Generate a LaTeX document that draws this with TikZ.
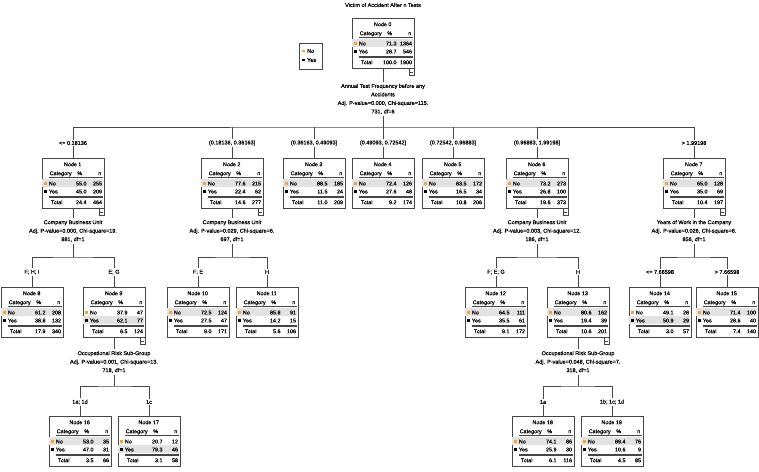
\documentclass[tikz,border=0pt]{standalone}
\usepackage{fontspec}
\setmainfont{Liberation Sans}
\newfontfamily\dfont{Liberation Sans}[FakeBold=0.35]
\definecolor{orng}{RGB}{242,163,60}
\definecolor{rowgray}{RGB}{226,226,226}
\definecolor{ln}{RGB}{70,70,70}
\tikzset{
 box/.style={draw=ln, line width=0.6pt, minimum width=62pt, minimum height=50pt, inner sep=0pt},
 txt/.style={font=\dfont\fontsize{5.4}{6.5}\selectfont, inner sep=0pt},
 split/.style={font=\dfont\fontsize{5.5}{8.5}\selectfont, align=center, inner sep=1.5pt},
 blabel/.style={font=\dfont\fontsize{5.5}{6.5}\selectfont, fill=white, inner sep=1.5pt},
 conn/.style={draw=ln, line width=0.6pt},
 minusbox/.style={draw=ln, line width=0.5pt, minimum width=5pt, minimum height=7pt, inner sep=0pt, fill=white},
}
\newcommand\dtbox[9]{%
 \node[box] (#1) at (#2,#3+25) {};
 \begin{scope}[shift={(#1.north west)}]
  \if#5N\fill[rowgray] (0.5,21.5) rectangle (61.5,29.5);\else\fill[rowgray] (0.5,29.5) rectangle (61.5,37.5);\fi
  \node[txt,anchor=base] (#1h) at (31,8.5) {Node #4};
  \node[txt,anchor=base] (#1hc) at (19,17.5) {Category};
  \node[txt,anchor=base] (#1hp) at (38,17.5) {\%};
  \node[txt,anchor=base] (#1hn) at (58,17.5) {n};
  \draw[ln, line width=0.4pt] (7,19.5) -- (61,19.5);
  \fill[orng] (2.7,24.2) rectangle (5.3,26.8);
  \node[txt,anchor=base west] (#1a) at (7,27.7) {No};
  \node[txt,anchor=base east] (#1ap) at (45,27.7) {#6};
  \node[txt,anchor=base east] (#1an) at (60.5,27.7) {#7};
  \fill[black] (2.7,32.2) rectangle (5.3,34.8);
  \node[txt,anchor=base west] (#1b) at (7,35.7) {Yes};
  \node[txt,anchor=base east] (#1bp) at (45,35.7) {#8};
  \node[txt,anchor=base east] (#1bn) at (60.5,35.7) {#9};
  \draw[ln, line width=0.4pt] (7,38.6) -- (61,38.6) (7,39.7) -- (61,39.7);
 \end{scope}
}
\newcommand\dttot[3]{%
 \begin{scope}[shift={(#1.north west)}]
  \node[txt,anchor=base] (#1t) at (15,46.5) {Total};
  \node[txt,anchor=base east] (#1tp) at (45,46.5) {#2};
  \node[txt,anchor=base east] (#1tn) at (60.5,46.5) {#3};
 \end{scope}
}
\newcommand\dtminus[1]{%
 \node[minusbox,anchor=north east] (#1m) at (#1.south east) {};
 \draw[ln,line width=0.5pt] ([xshift=-1.5pt]#1m.center) -- ([xshift=1.5pt]#1m.center);
}
\begin{document}
\begin{tikzpicture}[x=1pt,y=-1pt]
\useasboundingbox (0,0) rectangle (759,471);
% title
\node[font=\dfont\fontsize{5.5}{6.5}\selectfont, inner sep=0pt] (title) at (383,5) {Victim of Accident After n Tests};
% legend
\node[draw=ln, line width=0.5pt, minimum width=22.5pt, minimum height=26.5pt, inner sep=0pt] (leg) at (310.5,56) {};
\fill[orng] (302.2,49.7) rectangle (304.8,52.3);
\node[txt,anchor=west] (legno) at (307,51) {No};
\fill[black] (302.2,58.7) rectangle (304.8,61.3);
\node[txt,anchor=west] (legyes) at (307,60) {Yes};

% ---- nodes
\dtbox{n0}{383}{18}{0}{N}{71.3}{1364}{28.7}{546}\dttot{n0}{100.0}{1900}\dtminus{n0}
\dtbox{n1}{73}{158}{1}{N}{55.0}{255}{45.0}{209}\dttot{n1}{24.4}{464}\dtminus{n1}
\dtbox{n2}{232}{158}{2}{N}{77.6}{215}{22.4}{62}\dttot{n2}{14.6}{277}\dtminus{n2}
\dtbox{n3}{314}{158}{3}{N}{88.5}{185}{11.5}{24}\dttot{n3}{11.0}{209}
\dtbox{n4}{383}{158}{4}{N}{72.4}{126}{27.6}{48}\dttot{n4}{9.2}{174}
\dtbox{n5}{453}{158}{5}{N}{83.5}{172}{16.5}{34}\dttot{n5}{10.8}{206}
\dtbox{n6}{537}{158}{6}{N}{73.2}{273}{26.8}{100}\dttot{n6}{19.6}{373}\dtminus{n6}
\dtbox{n7}{694}{158}{7}{N}{65.0}{128}{35.0}{69}\dttot{n7}{10.4}{197}\dtminus{n7}
\dtbox{n8}{32}{287}{8}{N}{61.2}{208}{38.8}{132}\dttot{n8}{17.9}{340}
\dtbox{n9}{114}{287}{9}{Y}{37.9}{47}{62.1}{77}\dttot{n9}{6.5}{124}\dtminus{n9}
\dtbox{n10}{198}{287}{10}{N}{72.5}{124}{27.5}{47}\dttot{n10}{9.0}{171}
\dtbox{n11}{267}{287}{11}{N}{85.8}{91}{14.2}{15}\dttot{n11}{5.6}{106}
\dtbox{n12}{496}{287}{12}{N}{64.5}{111}{35.5}{61}\dttot{n12}{9.1}{172}
\dtbox{n13}{578}{287}{13}{N}{80.6}{162}{19.4}{39}\dttot{n13}{10.6}{201}\dtminus{n13}
\dtbox{n14}{660}{287}{14}{Y}{49.1}{28}{50.9}{29}\dttot{n14}{3.0}{57}
\dtbox{n15}{727}{287}{15}{N}{71.4}{100}{28.6}{40}\dttot{n15}{7.4}{140}
\dtbox{n16}{80}{416}{16}{N}{53.0}{35}{47.0}{31}\dttot{n16}{3.5}{66}
\dtbox{n17}{149}{416}{17}{Y}{20.7}{12}{79.3}{46}\dttot{n17}{3.1}{58}
\dtbox{n18}{543}{416}{18}{N}{74.1}{86}{25.9}{30}\dttot{n18}{6.1}{116}
\dtbox{n19}{612}{416}{19}{N}{89.4}{76}{10.6}{9}\dttot{n19}{4.5}{85}

% ---- split labels
\node[split] (s0) at (383,99) {Annual Test Frequency before any\\Accidents\\Adj. P-value=0.000, Chi-square=115.\\731, df=6};
\node[split] (s1) at (73,231) {Company Business Unit\\Adj. P-value=0.000, Chi-square=19.\\881, df=1};
\node[split] (s2) at (232,231) {Company Business Unit\\Adj. P-value=0.029, Chi-square=6.\\697, df=1};
\node[split] (s6) at (537,231) {Company Business Unit\\Adj. P-value=0.003, Chi-square=12.\\186, df=1};
\node[split] (s7) at (694,231) {Years of Work in the Company\\Adj. P-value=0.026, Chi-square=6.\\856, df=1};
\node[split] (s9) at (114,362) {Occupational Risk Sub-Group\\Adj. P-value=0.001, Chi-square=13.\\718, df=1};
\node[split] (s13) at (578,362) {Occupational Risk Sub-Group\\Adj. P-value=0.048, Chi-square=7.\\318, df=1};

% ---- junctions
\coordinate (j0) at (383,127);
\coordinate (j1) at (73,257);
\coordinate (j2) at (232,257);
\coordinate (j6) at (537,257);
\coordinate (j7) at (694,257);
\coordinate (j9) at (114,386);
\coordinate (j13) at (578,386);

% ---- connectors
\draw[conn] (n0.south) -- (s0.north);
\draw[conn] (s0.south) -- (j0);
\draw[conn] (n1.north) |- (j0) -| (n7.north);
\foreach \k in {n2,n3,n4,n5,n6} \draw[conn] (\k.north) -- (\k.north |- j0);

\foreach \p/\q in {n1/s1, n2/s2, n6/s6, n7/s7}{
  \draw[conn] (\p.south) -- (\q.north);
}
\draw[conn] (s1.south) -- (j1); \draw[conn] (n8.north) |- (j1) -| (n9.north);
\draw[conn] (s2.south) -- (j2); \draw[conn] (n10.north) |- (j2) -| (n11.north);
\draw[conn] (s6.south) -- (j6); \draw[conn] (n12.north) |- (j6) -| (n13.north);
\draw[conn] (s7.south) -- (j7); \draw[conn] (n14.north) |- (j7) -| (n15.north);
\draw[conn] (n9.south) -- (s9.north); \draw[conn] (s9.south) -- (j9); \draw[conn] (n16.north) |- (j9) -| (n17.north);
\draw[conn] (n13.south) -- (s13.north); \draw[conn] (s13.south) -- (j13); \draw[conn] (n18.north) |- (j13) -| (n19.north);

% ---- branch labels
\node[blabel] (b1) at (73,143) {<= 0.18136};
\node[blabel] (b2) at (232,143) {(0.18136, 0.36163]};
\node[blabel] (b3) at (314,143) {(0.36163, 0.49093]};
\node[blabel] (b4) at (383,143) {(0.49093, 0.72542]};
\node[blabel] (b5) at (453,143) {(0.72542, 0.96883]};
\node[blabel] (b6) at (537,143) {(0.96883, 1.99198]};
\node[blabel] (b7) at (694,143) {> 1.99198};
\node[blabel] (b8) at (32,272) {F; H; I};
\node[blabel] (b9) at (114,272) {E; G};
\node[blabel] (b10) at (198,272) {F; E};
\node[blabel] (b11) at (267,272) {H};
\node[blabel] (b12) at (496,272) {F; E; G};
\node[blabel] (b13) at (578,272) {H};
\node[blabel] (b14) at (660,272) {<= 7.66598};
\node[blabel] (b15) at (727,272) {> 7.66598};
\node[blabel] (b16) at (80,402) {1a; 1d};
\node[blabel] (b17) at (149,402) {1c};
\node[blabel] (b18) at (543,402) {1a};
\node[blabel] (b19) at (612,402) {1b; 1c; 1d};
\end{tikzpicture}
\end{document}
